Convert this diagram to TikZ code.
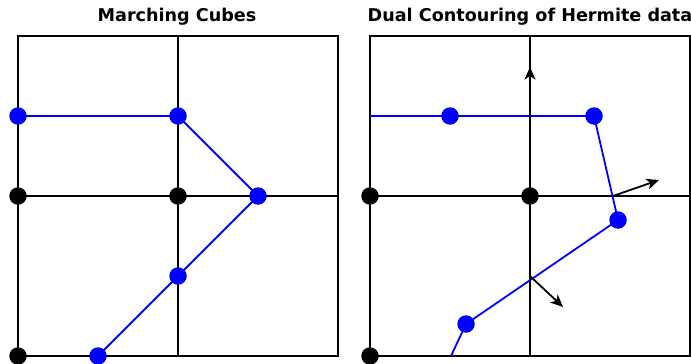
\documentclass[tikz,border=0pt]{standalone}
\usepackage{fontspec}
\setmainfont{DejaVu Sans}
\usetikzlibrary{arrows.meta}
\begin{document}
\begin{tikzpicture}[x=1pt,y=-1pt,
  grid/.style={line width=1.8pt,black},
  curve/.style={line width=1.8pt,blue},
  bdot/.style={circle,fill=blue,inner sep=0pt,minimum size=17.5pt},
  kdot/.style={circle,fill=black,inner sep=0pt,minimum size=17.5pt},
  normal/.style={line width=1.8pt,black,-{Stealth[length=12.5pt,width=11pt,inset=3.5pt]}},
  title/.style={font=\bfseries\fontsize{17.6}{20}\selectfont,anchor=base}]
\useasboundingbox (0,0) rectangle (691,364);
\begin{scope}
\clip (0,0) rectangle (691,364);
% left grid
\draw[grid] (18,36) rectangle (338,356);
\draw[grid] (178,36) -- (178,356);
\draw[grid] (18,196) -- (338,196);
% right grid
\draw[grid] (370,36) rectangle (690,356);
\draw[grid] (530,36) -- (530,356);
\draw[grid] (370,196) -- (690,196);
% titles
\node[title] (t1) at (177,21) {Marching Cubes};
\node[title] (t2) at (530,21) {Dual Contouring of Hermite data};
% left curve
\coordinate (a1) at (18,116);
\coordinate (a2) at (178,116);
\coordinate (a3) at (258,196);
\coordinate (a4) at (178,276);
\coordinate (a5) at (98,356);
\draw[curve] (a1) -- (a2) -- (a3) -- (a4) -- (a5);
\node[kdot] (k1) at (18,196) {};
\node[kdot] (k2) at (178,196) {};
\node[kdot] (k3) at (18,356) {};
\node[bdot] (b1) at (a1) {};
\node[bdot] (b2) at (a2) {};
\node[bdot] (b3) at (a3) {};
\node[bdot] (b4) at (a4) {};
\node[bdot] (b5) at (a5) {};
% right curve
\coordinate (c0) at (370,116);
\coordinate (c1) at (450,116);
\coordinate (c2) at (594,116);
\coordinate (c3) at (618,220);
\coordinate (c4) at (466,324);
\coordinate (c5) at (451,356);
\draw[curve] (c0) -- (c1) -- (c2) -- (c3) -- (c4) -- (c5);
% hermite normals
\coordinate (h1) at (530,116);
\coordinate (n1) at (530,67);
\coordinate (h2) at (613,196);
\coordinate (n2) at (659,180);
\coordinate (h3) at (530,276);
\coordinate (n3) at (563,307);
\draw[normal] (h1) -- (n1);
\draw[normal] (h2) -- (n2);
\draw[normal] (h3) -- (n3);
\node[kdot] (k4) at (370,196) {};
\node[kdot] (k5) at (530,196) {};
\node[kdot] (k6) at (370,356) {};
\node[bdot] (d1) at (c1) {};
\node[bdot] (d2) at (c2) {};
\node[bdot] (d3) at (c3) {};
\node[bdot] (d4) at (c4) {};
\end{scope}
\end{tikzpicture}
\end{document}
